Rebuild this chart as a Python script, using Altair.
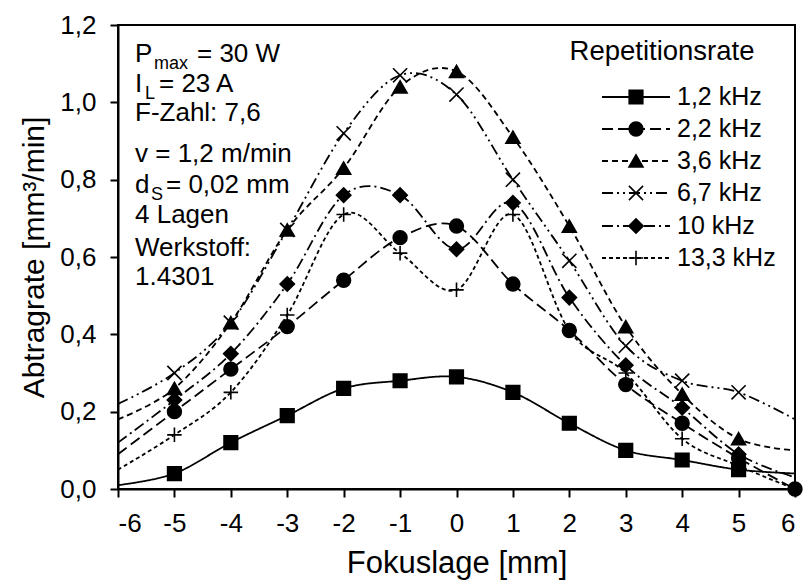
import altair as alt
import pandas as pd

# ---------------- data ----------------
focus = [-6, -5, -4, -3, -2, -1, 0, 1, 2, 3, 4, 5, 6]
series_names = ["1,2 kHz", "2,2 kHz", "3,6 kHz", "6,7 kHz", "10 kHz", "13,3 kHz"]
rate_1_2 = [0.01, 0.04, 0.12, 0.19, 0.26, 0.28, 0.29, 0.25, 0.17, 0.10, 0.075, 0.05, 0.04]
rate_2_2 = [0.09, 0.20, 0.31, 0.42, 0.54, 0.65, 0.68, 0.53, 0.41, 0.27, 0.17, 0.08, 0.00]
rate_3_6 = [0.18, 0.26, 0.43, 0.67, 0.83, 1.04, 1.08, 0.91, 0.68, 0.42, 0.245, 0.13, 0.10]
rate_6_7 = [0.22, 0.30, 0.43, 0.67, 0.92, 1.07, 1.02, 0.80, 0.59, 0.37, 0.28, 0.25, 0.18]
rate_10 = [0.12, 0.23, 0.35, 0.53, 0.76, 0.76, 0.62, 0.74, 0.495, 0.32, 0.21, 0.09, 0.03]
rate_13_3 = [0.05, 0.14, 0.25, 0.45, 0.71, 0.61, 0.515, 0.71, 0.41, 0.30, 0.13, 0.06, 0.00]
# which points carry a visible marker (True) per series
marker_1_2 = [False] + [True] * 11 + [False]
marker_2_2 = [False] + [True] * 11 + [True]
marker_other = [False] + [True] * 11 + [False]

annotation_lines = ["F-Zahl: 7,6", "v = 1,2 m/min", "4 Lagen", "Werkstoff:", "1.4301"]
legend_title = "Repetitionsrate"
x_title = "Fokuslage [mm]"
y_title = "Abtragrate [mm³/min]"
x_ticks = list(range(-6, 7))
y_ticks = [0.0, 0.2, 0.4, 0.6, 0.8, 1.0, 1.2]

# ---------------- styles / layout ----------------
FONT = "Liberation Sans"
W, H = 677, 464
LEFT, TOP = 118, 25
X0, X1, Y0, Y1 = -6, 6, 0.0, 1.2

dashes = [[1, 0], [11, 5], [6, 4], [11, 4, 2, 4, 2, 4], [11, 4, 2, 4], [4, 3]]
shapes = ["square", "circle", "triangle-up", "M-1,-1L1,1M-1,1L1,-1", "diamond", "M-1,0L1,0M0,-1L0,1"]
fill_op = [1, 1, 1, 0, 1, 0]
sizes = [185, 210, 210, 160, 170, 200]


def px_x(px):
    return X0 + (px - LEFT) * (X1 - X0) / W


def px_y(py):
    return Y1 - (py - TOP) * (Y1 - Y0) / H


all_rates = [rate_1_2, rate_2_2, rate_3_6, rate_6_7, rate_10, rate_13_3]
all_markers = [marker_1_2, marker_2_2, marker_other, marker_other, marker_other, marker_other]

rows = []
for name, vals, marks in zip(series_names, all_rates, all_markers):
    for fx, v, m in zip(focus, vals, marks):
        rows.append({"focus": fx, "rate": v, "series": name, "marker": m})
df = pd.DataFrame(rows)
df_pts = df[df["marker"]]

xscale = alt.Scale(domain=[X0, X1], nice=False, zero=False)
yscale = alt.Scale(domain=[Y0, Y1], nice=False, zero=True)

xaxis = alt.Axis(
    title=x_title, values=x_ticks,
    labelExpr="(datum.value < 0 ? '-' : '') + abs(datum.value)",
    grid=False, tickSize=8, tickWidth=2, domainWidth=2,
    domainColor="black", tickColor="black", labelColor="black", titleColor="black",
    labelFont=FONT, titleFont=FONT, labelFontSize=26, titleFontSize=31,
    titleFontWeight="normal", labelPadding=13, titlePadding=12,
)
yaxis = alt.Axis(
    title=y_title, values=y_ticks,
    labelExpr="replace(format(datum.value, '.1f'), '.', ',')",
    grid=False, tickSize=8, tickWidth=2, domainWidth=2,
    domainColor="black", tickColor="black", labelColor="black", titleColor="black",
    labelFont=FONT, titleFont=FONT, labelFontSize=26, titleFontSize=30,
    titleFontWeight="normal", labelPadding=14, titlePadding=10,
)


def X(field):
    return alt.X(field, type="quantitative", scale=xscale, axis=xaxis)


def Y(field):
    return alt.Y(field, type="quantitative", scale=yscale, axis=yaxis)


dash_enc = alt.StrokeDash("series:N", scale=alt.Scale(domain=series_names, range=dashes), legend=None)
shape_enc = alt.Shape("series:N", scale=alt.Scale(domain=series_names, range=shapes), legend=None)
fo_enc = alt.FillOpacity("series:N", scale=alt.Scale(domain=series_names, range=fill_op), legend=None)
size_enc = alt.Size("series:N", scale=alt.Scale(domain=series_names, range=sizes), legend=None)

lines = alt.Chart(df).mark_line(interpolate="cardinal", color="black", strokeWidth=1.8).encode(
    x=X("focus"), y=Y("rate"), strokeDash=dash_enc, detail="series:N"
)
points = alt.Chart(df_pts).mark_point(filled=True, color="black", stroke="black", strokeWidth=1.6, opacity=1).encode(
    x=X("focus"), y=Y("rate"), shape=shape_enc, fillOpacity=fo_enc, size=size_enc
)

# ---------------- annotation text ----------------
ann_rows = [
    {"t": "P", "px": 135, "py": 62, "fs": 26},
    {"t": "max", "px": 154, "py": 69, "fs": 18},
    {"t": "= 30 W", "px": 197, "py": 62, "fs": 26},
    {"t": "I", "px": 135, "py": 92, "fs": 26},
    {"t": "L", "px": 145, "py": 99, "fs": 18},
    {"t": "= 23 A", "px": 159, "py": 92, "fs": 26},
    {"t": annotation_lines[0], "px": 135, "py": 121, "fs": 26},
    {"t": annotation_lines[1], "px": 135, "py": 162, "fs": 26},
    {"t": "d", "px": 135, "py": 193, "fs": 26},
    {"t": "S", "px": 151, "py": 200, "fs": 18},
    {"t": "= 0,02 mm", "px": 166, "py": 193, "fs": 26},
    {"t": annotation_lines[2], "px": 135, "py": 223, "fs": 26},
    {"t": annotation_lines[3], "px": 135, "py": 256, "fs": 26},
    {"t": annotation_lines[4], "px": 135, "py": 285, "fs": 26},
]
ann = pd.DataFrame(ann_rows)
ann["x"] = ann["px"].apply(px_x)
ann["y"] = ann["py"].apply(px_y)
annot = alt.Chart(ann).mark_text(align="left", baseline="alphabetic", font=FONT, color="black").encode(
    x=X("x"), y=Y("y"), text="t:N", size=alt.Size("fs:Q", scale=None, legend=None)
)

# ---------------- legend (inside plot) ----------------
leg_rows_y = [97, 129, 161, 193, 226, 258]
leg = pd.DataFrame({
    "series": series_names,
    "x1": [px_x(602)] * 6,
    "x2": [px_x(670)] * 6,
    "xm": [px_x(636)] * 6,
    "xl": [px_x(677)] * 6,
    "y": [px_y(v) for v in leg_rows_y],
})
leg_lines = alt.Chart(leg).mark_rule(color="black", strokeWidth=1.8).encode(
    x=X("x1"), x2="x2", y=Y("y"), strokeDash=dash_enc
)
leg_pts = alt.Chart(leg).mark_point(filled=True, color="black", stroke="black", strokeWidth=1.6, opacity=1).encode(
    x=X("xm"), y=Y("y"), shape=shape_enc, fillOpacity=fo_enc, size=size_enc
)
leg_text = alt.Chart(leg).mark_text(align="left", baseline="middle", font=FONT, fontSize=25, color="black").encode(
    x=X("xl"), y=Y("y"), text="series:N"
)
leg_title_df = pd.DataFrame({"t": [legend_title], "x": [px_x(662)], "y": [px_y(52)]})
leg_title = alt.Chart(leg_title_df).mark_text(align="center", baseline="middle", font=FONT, fontSize=27.5, color="black").encode(
    x=X("x"), y=Y("y"), text="t:N"
)

chart = alt.layer(lines, points, annot, leg_lines, leg_pts, leg_text, leg_title).properties(
    width=W, height=H,
    autosize=alt.AutoSizeParams(type="none"),
    padding={"left": LEFT, "top": TOP, "right": 805 - LEFT - W, "bottom": 584 - TOP - H},
    background="white",
).configure_view(stroke="black", strokeWidth=2)

chart.save("out.html", embed_options={"renderer": "svg", "actions": False})
